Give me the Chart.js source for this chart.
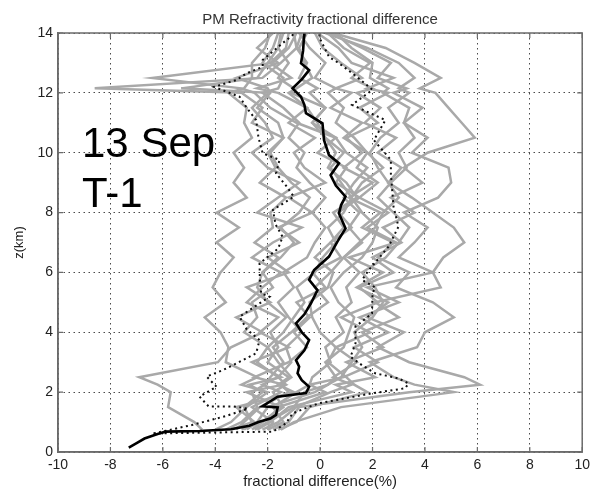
<!DOCTYPE html>
<html><head><meta charset="utf-8">
<script src="https://cdn.jsdelivr.net/npm/chart.js@4.4.1/dist/chart.umd.min.js"></script>
<style>html,body{margin:0;padding:0;background:#fff}#wrap{width:595px;height:496px}</style>
</head><body><div id="wrap"><canvas id="c" width="595" height="496"></canvas></div>
<script>
const titleText = 'PM Refractivity fractional difference';
const xLabel = 'fractional difference(%)';
const yLabel = 'z(km)';
const noteLines = ['13 Sep', 'T-1'];
const xTicks = [-10, -8, -6, -4, -2, 0, 2, 4, 6, 8, 10];
const zTicks = [0, 2, 4, 6, 8, 10, 12, 14];

// heights (km) shared by the individual gray profiles
const zGrid = [0.75,1,1.5,2,2.25,2.5,3,3.5,4,4.5,5,5.5,6,6.5,7,7.5,8,8.5,9,9.5,10,10.5,11,11.5,12,12.15,12.5,13,13.5,14];

// individual profiles: fractional difference (%) at zGrid
const g01 = [-2.0,-1.8,-2.6,-1.5,-2.2,-1.6,-2.4,-2.0,-2.9,-2.4,-2.6,-1.8,-2.2,-1.6,-2.5,-1.8,-1.9,-1.3,-2.3,-1.7,-2.0,-1.4,-2.6,-2.2,-3.0,-8.6,-2.2,-1.5,-0.9,-0.7];
const g02 = [-2.6,-2.2,-1.5,-2.8,-1.4,-2.5,-1.2,-0.5,-1.0,-0.4,-0.9,0.2,-0.3,0.8,0.4,1.2,0.7,1.5,0.6,1.0,-0.1,0.6,-0.9,-1.9,-2.5,-3.0,-6.4,-1.8,-1.2,-0.9];
const g03 = [-4.5,-4.8,-5.8,-5.7,-6.2,-6.9,-3.9,-3.4,-2.2,-3.2,-1.9,-2.8,-1.2,-2.0,-0.8,-1.6,-0.3,-1.2,0.2,-0.6,-1.0,-0.2,-1.2,-0.5,-1.6,-2.4,-1.1,-1.9,-1.3,-1.2];
const g04 = [-1.8,-1.2,-0.8,3.4,6.1,5.5,3.4,2.2,3.2,1.8,2.6,1.4,2.4,1.1,2.9,1.8,2.6,1.5,2.2,1.4,1.8,0.9,1.6,0.4,1.2,0.6,1.6,0.8,0.1,-0.2];
const g05 = [-1.5,-1.0,0.8,5.1,3.6,2.8,1.9,3.7,4.0,5.1,4.3,2.9,3.4,2.2,2.8,1.6,2.3,1.1,2.0,0.9,1.6,1.0,2.2,1.5,2.6,1.8,2.8,1.2,0.7,-0.1];
const g06 = [-2.2,-1.6,-0.9,0.4,1.2,0.5,1.4,0.6,1.9,0.8,2.2,1.5,2.8,2.0,3.1,2.4,3.6,2.7,3.9,3.2,4.1,5.9,5.4,4.9,4.4,3.8,4.6,3.6,2.5,0.5];
const g07 = [-2.4,-1.9,-1.2,1.2,0.6,2.1,1.0,2.4,1.6,3.0,2.1,4.6,4.3,4.7,5.5,5.1,4.3,3.5,2.6,3.1,2.2,2.9,1.7,2.3,1.4,2.0,1.2,1.9,0.9,0.3];
const g08 = [-1.9,-2.0,-1.6,0.2,-0.4,0.9,2.2,1.3,2.6,1.5,3.0,1.8,4.3,3.0,3.6,4.1,3.2,4.5,5.0,4.9,3.5,4.1,3.2,3.9,2.8,3.3,2.2,2.7,1.6,0.4];
const g09 = [-4.0,-3.4,-2.8,-2.0,-3.0,-2.4,-3.6,-3.5,-3.8,-4.4,-3.6,-4.1,-3.8,-3.3,-3.95,-3.1,-3.95,-2.8,-3.3,-2.9,-3.3,-2.6,-2.9,-2.8,-3.5,-2.9,-2.6,-2.6,-2.1,-1.9];
const g10 = [-3.2,-2.9,-2.3,-1.2,-1.5,-1.1,-1.6,-2.0,-1.4,-1.0,-0.6,-0.9,-0.2,0.1,0.6,0.3,0.9,1.2,0.8,0.4,0.9,0.2,-0.1,-0.5,-1.2,-0.9,-0.3,-0.6,-0.8,-0.5];
const g11 = [-2.8,-2.4,-2.0,-0.2,0.3,0.6,0.2,0.9,1.1,1.3,0.7,0.4,0.9,1.6,2.0,2.2,1.6,1.2,1.6,2.4,1.8,1.3,0.6,0.9,0.3,0.6,-0.2,0.2,-0.4,-0.8];
const g12 = [-3.6,-3.0,-2.4,-2.6,-2.1,-1.9,-1.4,-1.8,-1.1,-0.5,0.3,-0.2,0.4,0.9,1.6,1.1,1.5,0.9,1.3,1.8,1.0,0.6,-0.3,0.2,-1.1,-1.0,-1.6,-1.2,-1.6,-1.4];
const g13 = [-2.0,-1.4,-1.8,-0.9,-0.4,-0.3,0.4,0.2,0.9,0.6,1.2,1.0,1.5,0.9,1.5,2.1,2.4,3.0,2.6,2.2,1.9,2.3,3.0,2.6,3.4,3.0,3.6,3.0,1.8,0.2];
const g14 = [-3.4,-2.6,-2.9,-2.2,-2.7,-1.5,-2.6,-1.2,-2.3,-1.6,-2.8,-2.2,-1.5,-2.6,-1.8,-0.7,-2.4,-1.6,-0.8,-2.0,-2.6,-1.8,-2.1,-2.6,-2.0,-5.3,-2.4,-2.0,-1.6,-1.5];
const g15 = [-2.5,-2.0,-1.0,-0.6,0.3,0.8,1.2,1.6,1.3,2.0,2.4,2.1,1.6,2.5,3.0,3.4,2.8,2.2,2.7,3.3,3.0,3.6,3.2,3.4,2.4,2.6,1.9,2.0,1.2,0.6];
const g16 = [-3.0,-2.2,-1.4,-1.8,-1.3,-1.6,-1.1,-1.3,-0.7,-1.2,-1.6,-1.0,-1.4,-0.5,-0.2,0.2,-0.3,0.2,-0.4,-0.9,-0.6,-1.2,-0.8,-1.4,-2.2,-1.6,-1.4,-2.2,-1.8,-1.6];
const g17 = [-1.6,-0.9,-0.4,1.8,1.3,1.0,0.3,0.6,0.0,-0.3,-0.4,0.3,0.5,-0.2,0.4,0.9,0.5,1.4,1.0,0.3,0.6,0.2,-0.3,0.2,-0.4,-0.1,-0.8,-0.5,-0.9,-1.0];
const g18 = [-2.9,-2.5,-3.2,-1.0,-1.6,-1.2,-2.0,-1.6,-1.9,-1.3,-2.0,-2.4,-2.2,-1.5,-1.0,-1.5,-0.8,-0.4,-1.1,-1.6,-1.9,-1.4,-1.6,-2.4,-1.9,-2.0,-3.2,-1.6,-2.4,-1.8];

// mean profile (solid black)
const meanZ = [0.15,0.3,0.45,0.6,0.68,0.7,0.76,0.88,1.0,1.12,1.24,1.49,1.53,1.85,1.97,2.18,2.4,2.63,2.85,3.07,3.4,3.74,4.0,4.3,4.6,4.97,5.41,5.75,6.08,6.53,7.03,7.47,7.97,8.25,8.53,8.9,9.25,9.65,9.92,10.42,10.98,11.32,11.6,11.87,12.15,12.45,12.76,12.99,13.4,13.93,14];
const meanX = [-7.3,-7.0,-6.7,-6.2,-5.9,-4.6,-3.4,-2.7,-2.35,-1.9,-1.68,-1.62,-2.2,-1.62,-0.54,-0.42,-0.7,-0.86,-0.8,-0.92,-0.6,-0.42,-0.7,-0.92,-0.6,-0.35,-0.1,-0.42,-0.23,0.34,0.66,0.97,0.72,0.8,0.97,0.6,0.4,0.72,0.34,0.15,0.09,-0.54,-0.6,-0.73,-1.05,-0.7,-0.42,-0.73,-0.65,-0.61,-0.6];

// mean - std (dotted, left)
const lowZ = [0.62,0.9,1.2,1.45,1.52,1.52,1.85,2.18,2.52,2.74,3.0,3.3,3.74,4.1,4.52,5.19,5.3,5.8,6.3,6.8,7.19,7.6,8.09,8.53,8.9,9.31,9.76,9.98,10.5,11.09,11.5,11.87,12.2,12.43,12.65,12.87,13.1,13.66,13.93,14];
const lowX = [-6.35,-4.9,-3.6,-2.75,-3.3,-4.25,-4.6,-3.95,-4.33,-3.7,-3.1,-2.44,-2.31,-2.8,-3.07,-1.93,-2.25,-2.3,-2.31,-1.6,-1.43,-1.7,-1.8,-1.0,-1.3,-1.68,-1.55,-2.19,-2.35,-2.44,-2.8,-3.07,-4.05,-3.19,-2.81,-2.19,-2.19,-1.43,-1.05,-1.0];

// mean + std (dotted, right)
const highZ = [0.62,0.68,0.96,1.29,1.51,1.63,1.96,2.13,2.29,2.46,2.63,2.9,3.18,3.63,4.19,4.63,5.3,5.5,5.75,6.08,6.86,7.53,8.2,8.86,9.3,9.76,10.42,11.09,11.6,12.1,12.54,12.99,13.2,13.87,14];
const highX = [-6.35,-1.8,-1.3,-1.05,-0.42,-0.04,1.98,3.25,3.37,2.99,2.1,1.6,1.16,1.35,1.35,1.98,2.0,2.1,1.6,1.86,2.61,2.99,2.8,2.74,2.7,2.7,2.05,2.49,1.22,2.0,1.4,0.72,0.34,-0.04,0.0];

const grayProfiles = [g01,g02,g03,g04,g05,g06,g07,g08,g09,g10,g11,g12,g13,g14,g15,g16,g17,g18];

function pts(xs, zs) { return xs.map((v, i) => ({ x: v, y: zs[i] })); }

const FONT = '"Liberation Sans", Arial, Helvetica, sans-serif';
Chart.defaults.font.family = FONT;

const datasets = [
  { data: pts(meanX, meanZ), borderColor: '#000', borderWidth: 2.6, order: 0 },
  { data: pts(lowX, lowZ), borderColor: '#111', borderWidth: 2, borderDash: [2, 3.5], order: 1 },
  { data: pts(highX, highZ), borderColor: '#111', borderWidth: 2, borderDash: [2, 3.5], order: 1 }
];
grayProfiles.forEach(p => datasets.push({ data: pts(p, zGrid), borderColor: '#a9a9a9', borderWidth: 2.5, order: 2 }));
datasets.forEach(d => { d.showLine = true; d.pointRadius = 0; d.fill = false; d.tension = 0; });

const framePlugin = {
  id: 'frame',
  afterDatasetsDraw(chart) {
    const { ctx, chartArea: a, scales: { x, y } } = chart;
    ctx.save();
    ctx.strokeStyle = '#6b6b6b';
    ctx.lineWidth = 1.5;
    ctx.strokeRect(a.left, a.top, a.right - a.left, a.bottom - a.top);
    ctx.lineWidth = 1.2;
    ctx.beginPath();
    xTicks.forEach(v => {
      const p = x.getPixelForValue(v);
      ctx.moveTo(p, a.bottom); ctx.lineTo(p, a.bottom - 5);
      ctx.moveTo(p, a.top); ctx.lineTo(p, a.top + 5);
    });
    zTicks.forEach(v => {
      const p = y.getPixelForValue(v);
      ctx.moveTo(a.left, p); ctx.lineTo(a.left + 5, p);
      ctx.moveTo(a.right, p); ctx.lineTo(a.right - 5, p);
    });
    ctx.stroke();
    // annotation text
    ctx.fillStyle = '#000';
    ctx.font = '42px ' + FONT;
    ctx.textAlign = 'left';
    ctx.textBaseline = 'alphabetic';
    ctx.fillText(noteLines[0], 82, 157);
    ctx.fillText(noteLines[1], 82, 207);
    // title centred over plot
    ctx.fillStyle = '#333';
    ctx.font = '15px ' + FONT;
    ctx.textAlign = 'center';
    ctx.fillText(titleText, (a.left + a.right) / 2, 24);
    ctx.restore();
  }
};

new Chart(document.getElementById('c'), {
  type: 'scatter',
  data: { datasets },
  options: {
    responsive: false,
    animation: false,
    devicePixelRatio: 1,
    layout: { padding: { top: 33, right: 8, left: 0, bottom: 0 } },
    plugins: { legend: { display: false }, tooltip: { enabled: false }, title: { display: false } },
    scales: {
      x: {
        type: 'linear', min: -10, max: 10,
        afterBuildTicks: s => { s.ticks = xTicks.map(v => ({ value: v })); },
        afterFit: s => { s.height = 44; },
        grid: { color: '#4a4a4a', lineWidth: 1, drawTicks: false },
        border: { display: true, color: '#6b6b6b', width: 1.5, dash: [1.5, 3.5] },
        ticks: { padding: 5, color: '#222', font: { size: 14 }, maxRotation: 0, autoSkip: false },
        title: { display: true, text: xLabel, color: '#222', font: { size: 15 }, padding: { top: 0, bottom: 5 } }
      },
      y: {
        type: 'linear', min: 0, max: 14,
        afterBuildTicks: s => { s.ticks = zTicks.map(v => ({ value: v })); },
        afterFit: s => { s.width = 58; },
        grid: { color: '#4a4a4a', lineWidth: 1, drawTicks: false },
        border: { display: true, color: '#6b6b6b', width: 1.5, dash: [1.5, 3.5] },
        ticks: { padding: 5, color: '#222', font: { size: 14 }, autoSkip: false },
        title: { display: true, text: yLabel, color: '#222', font: { size: 13 }, padding: { top: 12, bottom: 0 } }
      }
    }
  },
  plugins: [framePlugin]
});
</script></body></html>
